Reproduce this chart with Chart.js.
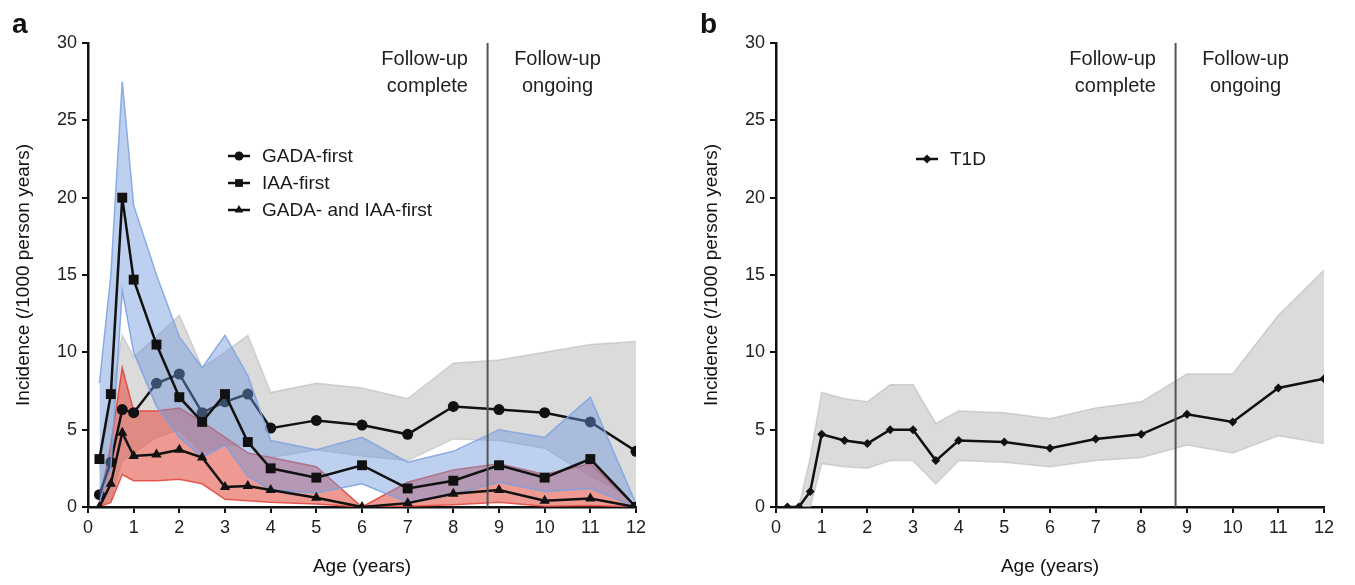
<!DOCTYPE html>
<html>
<head>
<meta charset="utf-8">
<script src="https://cdn.jsdelivr.net/npm/chart.js@4/dist/chart.umd.min.js"></script>
<style>
  html, body { margin: 0; padding: 0; background: #fff; }
  body { width: 1355px; height: 585px; position: relative; overflow: hidden; font-family: "Liberation Sans", Arial, sans-serif; }
  .panel { position: absolute; top: 0; height: 585px; }
  .tag { position: absolute; top: 8px; font: bold 28px "Liberation Sans", Arial, sans-serif; color: #111; }
  .note { position: absolute; font-size: 20px; line-height: 27px; color: #222; }
</style>
</head>
<body>
<div class="panel" style="left:0;width:680px"><canvas id="chartA"></canvas></div>
<div class="panel" style="left:688px;width:667px"><canvas id="chartB"></canvas></div>

<div class="tag" style="left:12px">a</div>
<div class="tag" style="left:700px">b</div>
<div class="note" style="left:360px;top:45px;width:108px;text-align:right">Follow-up<br>complete</div>
<div class="note" style="left:505px;top:45px;width:105px;text-align:center">Follow-up<br>ongoing</div>
<div class="note" style="left:1048px;top:45px;width:108px;text-align:right">Follow-up<br>complete</div>
<div class="note" style="left:1193px;top:45px;width:105px;text-align:center">Follow-up<br>ongoing</div>

<script>
// ages (years) at which incidence was estimated
const ages = [0.25, 0.5, 0.75, 1, 1.5, 2, 2.5, 3, 3.5, 4, 5, 6, 7, 8, 9, 10, 11, 12];

// panel a
const gadaFirst = [0.8, 2.9, 6.3, 6.1, 8.0, 8.6, 6.1, 6.8, 7.3, 5.1, 5.6, 5.3, 4.7, 6.5, 6.3, 6.1, 5.5, 3.6];
const gadaUpper = [2.5, 7.0, 11.1, 9.7, 11.0, 12.4, 9.0, 10.0, 11.1, 7.4, 8.0, 7.7, 7.0, 9.3, 9.5, 10.0, 10.5, 10.7];
const gadaLower = [0, 0.5, 3.0, 3.5, 4.5, 5.0, 3.5, 4.0, 4.0, 3.2, 3.7, 3.3, 3.0, 4.4, 4.3, 3.8, 2.0, 0.5];

const iaaFirst = [3.1, 7.3, 20.0, 14.7, 10.5, 7.1, 5.5, 7.3, 4.2, 2.5, 1.9, 2.7, 1.2, 1.7, 2.7, 1.9, 3.1, 0];
const iaaUpper = [8.0, 15.0, 27.5, 19.5, 15.0, 11.0, 9.0, 11.1, 8.5, 4.3, 3.7, 4.5, 2.9, 3.6, 5.0, 4.5, 7.1, 0.2];
const iaaLower = [0.3, 2.5, 14.0, 10.0, 6.5, 4.5, 3.2, 4.0, 2.0, 1.1, 0.9, 1.5, 0.3, 0.8, 1.6, 1.0, 1.2, 0];

const bothFirst = [0, 1.5, 4.8, 3.3, 3.4, 3.7, 3.2, 1.3, 1.35, 1.1, 0.6, 0, 0.25, 0.85, 1.1, 0.4, 0.55, 0];
const bothUpper = [0.3, 4.0, 9.0, 6.2, 6.2, 6.4, 5.5, 4.5, 3.5, 3.2, 2.6, 0, 1.6, 2.4, 2.8, 2.1, 2.8, 0];
const bothLower = [0, 0.3, 2.1, 1.7, 1.7, 1.8, 1.5, 0.5, 0.4, 0.3, 0.2, 0, 0.05, 0.15, 0.3, 0.05, 0.1, 0];

// panel b
const t1d = [0, 0, 1.0, 4.7, 4.3, 4.1, 5.0, 5.0, 3.0, 4.3, 4.2, 3.8, 4.4, 4.7, 6.0, 5.5, 7.7, 8.3];
const t1dUpper = [0, 0, 3.2, 7.4, 7.0, 6.8, 7.9, 7.9, 5.4, 6.2, 6.1, 5.7, 6.4, 6.8, 8.6, 8.6, 12.4, 15.3];
const t1dLower = [0, 0, 0, 2.8, 2.6, 2.5, 3.0, 3.0, 1.5, 3.0, 2.9, 2.6, 3.0, 3.2, 4.0, 3.5, 4.6, 4.1];

const xTicks = [0, 1, 2, 3, 4, 5, 6, 7, 8, 9, 10, 11, 12];
const yTicks = [0, 5, 10, 15, 20, 25, 30];
const followUpCutoff = 8.75;

const FONT = '"Liberation Sans", Arial, sans-serif';

function points(values) {
    return values.map((v, i) => ({ x: ages[i], y: v }));
}

function lineSet(label, values, style, radius, order) {
    return {
        label: label,
        data: points(values),
        borderColor: '#111',
        backgroundColor: '#111',
        borderWidth: 2.5,
        pointStyle: style,
        pointRadius: radius,
        pointBorderWidth: 0,
        fill: false,
        order: order
    };
}

function bandSets(upper, lower, fillColor, edgeColor, order) {
    return [
        {
            label: 'upper',
            data: points(upper),
            borderColor: edgeColor,
            borderWidth: 1.5,
            pointRadius: 0,
            backgroundColor: fillColor,
            fill: '+1',
            order: order
        },
        {
            label: 'lower',
            data: points(lower),
            borderColor: edgeColor,
            borderWidth: 1.5,
            pointRadius: 0,
            fill: false,
            order: order
        }
    ];
}

// divider line + small legend drawn on top of the plot
const extras = {
    id: 'extras',
    afterDatasetsDraw(chart, args, opts) {
        const { ctx, chartArea, scales } = chart;
        const x = scales.x.getPixelForValue(opts.divider);
        ctx.save();
        ctx.strokeStyle = '#555';
        ctx.lineWidth = 2;
        ctx.beginPath();
        ctx.moveTo(x, chartArea.top);
        ctx.lineTo(x, chartArea.bottom);
        ctx.stroke();

        ctx.font = '19px ' + FONT;
        ctx.textBaseline = 'middle';
        opts.legend.forEach((item, i) => {
            const lx = opts.legendX;
            const ly = opts.legendY + i * 27;
            ctx.strokeStyle = '#111';
            ctx.lineWidth = 2.5;
            ctx.beginPath();
            ctx.moveTo(lx, ly);
            ctx.lineTo(lx + 22, ly);
            ctx.stroke();
            ctx.fillStyle = '#111';
            Chart.helpers.drawPoint(ctx, { pointStyle: item.style, radius: item.radius, rotation: 0, borderWidth: 0 }, lx + 11, ly);
            ctx.fillStyle = '#1a1a1a';
            ctx.fillText(item.text, lx + 34, ly + 1);
        });
        ctx.restore();
    }
};

function axisOptions(leftPad) {
    return {
        x: {
            type: 'linear',
            min: 0,
            max: 12,
            afterBuildTicks: axis => { axis.ticks = xTicks.map(v => ({ value: v })); },
            afterFit: axis => { axis.height = 73; },
            ticks: { color: '#222', font: { family: FONT, size: 18 }, padding: 4 },
            grid: { drawOnChartArea: false, color: '#111', tickLength: 6, lineWidth: 2 },
            border: { color: '#111', width: 2.5 },
            title: { display: true, text: 'Age (years)', color: '#111', font: { family: FONT, size: 19 }, padding: { top: 6, bottom: 2 } }
        },
        y: {
            min: 0,
            max: 30,
            afterBuildTicks: axis => { axis.ticks = yTicks.map(v => ({ value: v })); },
            afterFit: axis => { axis.width = 88 - leftPad; },
            ticks: { color: '#222', font: { family: FONT, size: 18 }, padding: 5 },
            grid: { drawOnChartArea: false, color: '#111', tickLength: 6, lineWidth: 2 },
            border: { color: '#111', width: 2.5 },
            title: { display: true, text: 'Incidence (/1000 person years)', color: '#111', font: { family: FONT, size: 19 }, padding: { top: 2, bottom: 2 } }
        }
    };
}

function makeChart(id, width, rightPad, datasets, extraOpts) {
    const canvas = document.getElementById(id);
    canvas.width = width;
    canvas.height = 585;
    return new Chart(canvas, {
        type: 'line',
        data: { datasets: datasets },
        options: {
            responsive: false,
            animation: false,
            layout: { padding: { left: 10, right: rightPad, top: 43, bottom: 5 } },
            scales: axisOptions(10),
            plugins: {
                legend: { display: false },
                tooltip: { enabled: false },
                extras: extraOpts
            }
        },
        plugins: [extras]
    });
}

makeChart('chartA', 680, 44, [
    lineSet('GADA- and IAA-first', bothFirst, 'triangle', 6, 1),
    lineSet('IAA-first', iaaFirst, 'rect', 7, 2),
    ...bandSets(iaaUpper, iaaLower, 'rgba(110,150,220,0.45)', 'rgba(130,165,225,0.9)', 3),
    lineSet('GADA-first', gadaFirst, 'circle', 5.5, 4),
    ...bandSets(bothUpper, bothLower, 'rgba(228,85,75,0.6)', 'rgba(225,70,60,0.9)', 5),
    ...bandSets(gadaUpper, gadaLower, 'rgba(190,190,190,0.55)', 'rgba(185,185,185,0.6)', 6)
], {
    divider: followUpCutoff,
    legendX: 228,
    legendY: 156,
    legend: [
        { text: 'GADA-first', style: 'circle', radius: 4.5 },
        { text: 'IAA-first', style: 'rect', radius: 5.5 },
        { text: 'GADA- and IAA-first', style: 'triangle', radius: 5 }
    ]
});

makeChart('chartB', 667, 31, [
    lineSet('T1D', t1d, 'rectRot', 4.5, 1),
    ...bandSets(t1dUpper, t1dLower, 'rgba(190,190,190,0.55)', 'rgba(185,185,185,0.6)', 2)
], {
    divider: followUpCutoff,
    legendX: 228,
    legendY: 159,
    legend: [
        { text: 'T1D', style: 'rectRot', radius: 4.5 }
    ]
});
</script>
</body>
</html>
